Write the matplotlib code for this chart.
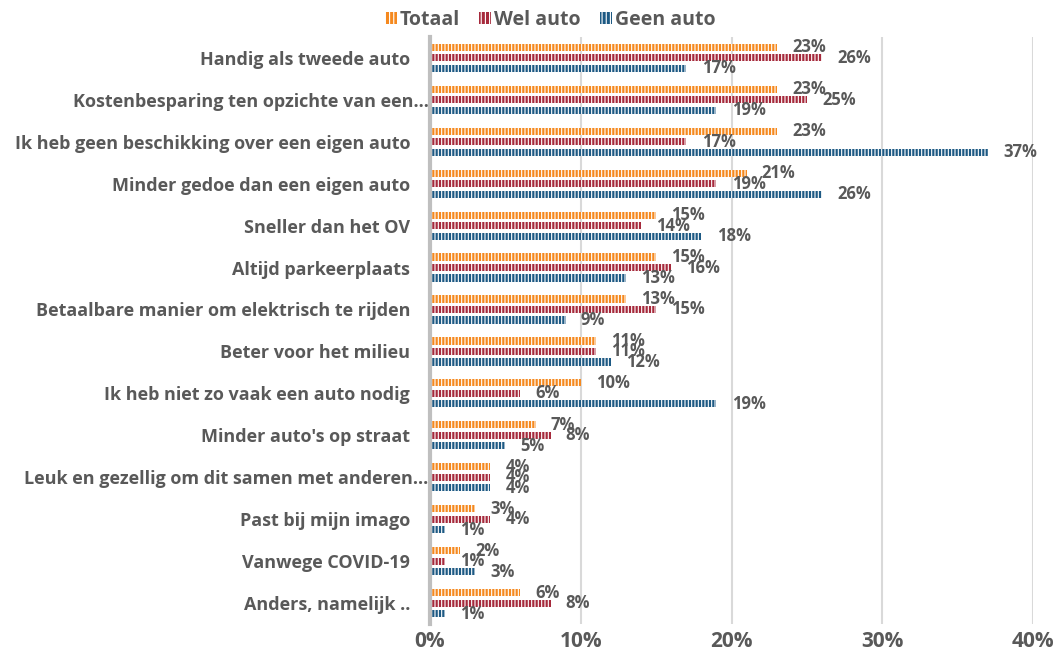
import numpy as np
import matplotlib
matplotlib.use("Agg")
import matplotlib.pyplot as plt
from matplotlib.patches import Patch

# survey answers, percentages per group
categories = [
    "Handig als tweede auto",
    "Kostenbesparing ten opzichte van een...",
    "Ik heb geen beschikking over een eigen auto",
    "Minder gedoe dan een eigen auto",
    "Sneller dan het OV",
    "Altijd parkeerplaats",
    "Betaalbare manier om elektrisch te rijden",
    "Beter voor het milieu",
    "Ik heb niet zo vaak een auto nodig",
    "Minder auto's op straat",
    "Leuk en gezellig om dit samen met anderen...",
    "Past bij mijn imago",
    "Vanwege COVID-19",
    "Anders, namelijk ..",
]
totaal = [23, 23, 23, 21, 15, 15, 13, 11, 10, 7, 4, 3, 2, 6]
wel_auto = [26, 25, 17, 19, 14, 16, 15, 11, 6, 8, 4, 4, 1, 8]
geen_auto = [17, 19, 37, 26, 18, 13, 9, 12, 19, 5, 4, 1, 3, 1]
series_names = ["Totaal", "Wel auto", "Geen auto"]
colors = ["#F5891F", "#A62A3C", "#1E5A84"]
xticks = [0, 10, 20, 30, 40]

grey = "#595959"
plt.rcParams["font.family"] = ["Open Sans", "DejaVu Sans"]
plt.rcParams["font.weight"] = "bold"
plt.rcParams["hatch.linewidth"] = 0.8

fig = plt.figure(figsize=(10.58, 6.57), dpi=100)
ax = fig.add_axes([0.4064, 0.050, 0.5700, 0.894])

y = np.arange(len(categories))
h = 0.17
step = 0.25
for k, vals in enumerate([totaal, wel_auto, geen_auto]):
    pos = y + (k - 1) * step
    ax.barh(pos, vals, height=h, color=colors[k], edgecolor="white",
            linewidth=0, hatch="|||||", zorder=3)
    for p, v in zip(pos, vals):
        ax.annotate(f"{v}%", (v, p), xytext=(11, 0), textcoords="offset points",
                    ha="left", va="center", fontsize=12, color=grey,
                    fontweight="bold")

# truncated names sit against the axis, full names get some air
ticklabels = [c if c.endswith("...") else c + "    " for c in categories]

ax.set_xlim(0, 40)
ax.set_ylim(len(categories) - 0.5, -0.5)
ax.set_yticks(y)
ax.set_yticklabels(ticklabels, fontsize=13, color=grey, fontweight="bold")
ax.set_xticks(xticks)
ax.set_xticklabels([f"{t}%" for t in xticks], fontsize=15, color=grey,
                   fontweight="bold")
ax.tick_params(axis="both", length=0)
ax.tick_params(axis="y", pad=1)
ax.tick_params(axis="x", pad=5)

ax.grid(axis="x", color="#D9D9D9", linewidth=1.5, zorder=0)
for s in ["top", "right", "bottom"]:
    ax.spines[s].set_visible(False)
ax.spines["left"].set_color("#BFBFBF")
ax.spines["left"].set_linewidth(3)
ax.spines["left"].set_zorder(4)

handles = [Patch(facecolor=c, edgecolor="white", linewidth=0, hatch="||||")
           for c in colors]
fig.legend(handles, series_names, loc="upper center", ncol=3,
           bbox_to_anchor=(0.52, 1.012), frameon=False,
           handlelength=0.6, handleheight=0.6, handletextpad=0.15,
           columnspacing=1.0, labelcolor=grey, prop={"weight": "bold", "size": 14})

fig.savefig("out.png", dpi=100)
